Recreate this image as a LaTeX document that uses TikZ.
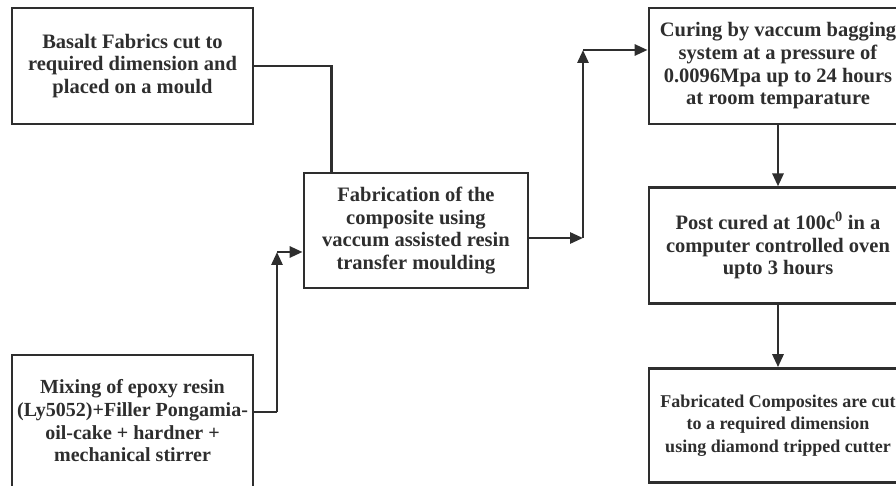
\documentclass[tikz,border=0pt]{standalone}
\usepackage{fontspec}
\setmainfont{Liberation Serif}
\usepackage{tikz}
\usetikzlibrary{
    arrows.meta,
    positioning,
    calc
}
\usepackage{xcolor}
\definecolor{inkgray}{HTML}{2E2E2E}
\tikzstyle{stage} = [
    rectangle,
    draw=inkgray,
    line width=2.8pt,
    fill=white,
    text=inkgray,
    align=center,
    inner sep=1pt,
    font=\fontsize{20.5}{22.7}\selectfont\bfseries
]
\tikzstyle{link} = [
    line width=2.8pt,
    draw=inkgray
]
\tikzstyle{arrow} = [
    -{Triangle[length=13pt,width=11pt]},
    line width=2.8pt,
    draw=inkgray,
    fill=inkgray
]

\begin{document}
\begin{tikzpicture}[x=1pt, y=1pt]
        \clip (0,0) rectangle (896,485);
        \fill[white] (0,0) rectangle (896,485);

        % Input stages
        \node[stage, minimum width=241pt, minimum height=116pt] (basalt) at (132.5,419)
            {Basalt Fabrics cut to\\required dimension and\\placed on a mould};
        \node[stage, minimum width=241pt, minimum height=132pt, font=\fontsize{20}{22.7}\selectfont\bfseries] (mixing) at (132.5,64)
            {Mixing of epoxy resin\\(Ly5052)+Filler Pongamia-\\oil-cake + hardner +\\mechanical stirrer};

        % Fabrication
        \node[stage, minimum width=224pt, minimum height=115pt] (fab) at (416,254.5)
            {Fabrication of the\\composite using\\vaccum assisted resin\\transfer moulding};

        % Curing column
        \node[stage, minimum width=258pt, minimum height=116pt] (curing) at (778,419)
            {Curing by vaccum bagging\\system at a pressure of\\0.0096Mpa up to 24 hours\\at room temparature};
        \node[stage, minimum width=258pt, minimum height=116pt, below=61pt of curing] (postcure)
            {Post cured at 100c\textsuperscript{0} in a\\computer controlled oven\\upto 3 hours};
        \node[stage, minimum width=258pt, minimum height=114pt, below=62pt of postcure,
              font=\fontsize{18}{22.7}\selectfont\bfseries] (cutting)
            {Fabricated Composites are cut\\to a required dimension\\using diamond tripped cutter};

        % Bends
        \coordinate (mixbend) at (277,73);
        \coordinate (mixtop) at (277,233);
        \coordinate (fabbend) at (583,247);
        \coordinate (fabtop) at (583,435);

        % Arrows
        \draw[link] (basalt.east) -| ([xshift=29pt]fab.north west);
        \draw[link] ([yshift=9pt]mixing.east) -- (mixbend);
        \draw[arrow] (mixbend) -- (mixtop);
        \draw[arrow] (mixtop) -- (mixtop -| fab.west);
        \draw[arrow] (fab.east |- fabbend) -- (fabbend);
        \draw[arrow] (fabbend) -- (fabtop);
        \draw[arrow] (fabtop) -- (fabtop -| curing.west);
        \draw[arrow] (curing) -- (postcure);
        \draw[arrow] (postcure) -- (cutting);
    \end{tikzpicture}
\end{document}
